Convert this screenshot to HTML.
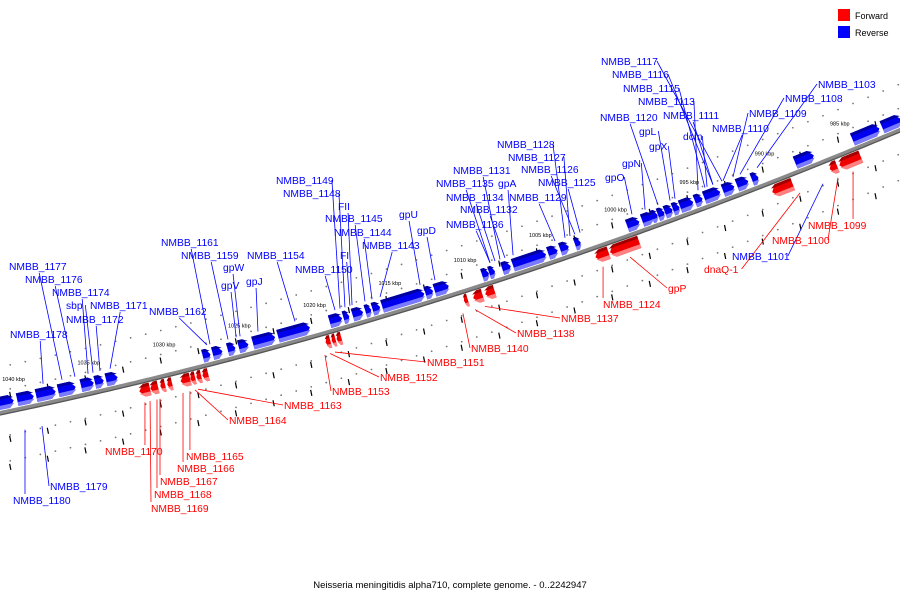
<!DOCTYPE html>
<html><head><meta charset="utf-8"><style>
html,body{margin:0;padding:0;background:#fff;}
svg{display:block;font-family:"Liberation Sans",sans-serif;}
</style></head><body>
<svg id="map" width="900" height="600" viewBox="0 0 900 600">
<g id="tracks"></g>
<path id="axisline" fill="none" stroke="#8a8a8a" stroke-width="4"/>
<path id="axisline2" fill="none" stroke="#555" stroke-width="1.3"/>
<g id="ticks"></g>
<g id="leaders"></g>
<g id="genes"></g>
<g id="labels"></g>
<g>
<rect x="838" y="9" width="12" height="12" fill="#ff0000"/>
<text x="855" y="19" font-size="9" fill="#000">Forward</text>
<rect x="838" y="26" width="12" height="12" fill="#0000ff"/>
<text x="855" y="36" font-size="9" fill="#000">Reverse</text>
</g>
<text x="450" y="588" font-size="9.5" text-anchor="middle" fill="#000">Neisseria meningitidis alpha710, complete genome. - 0..2242947</text>
</svg>
<script>
// data: [startKbp, endKbp]
const blueGenes = [[980.5,981.88],[981.94,983.87],[986.33,987.66],[990.05,990.51],[990.71,991.51],[991.64,992.44],[992.57,993.70],[993.77,994.30],[994.37,995.30],[995.30,995.76],[995.76,996.30],[996.30,996.76],[996.76,997.16],[997.03,997.82],[997.96,998.82],[1001.88,1002.28],[1002.67,1003.27],[1003.41,1004.07],[1004.14,1006.46],[1006.53,1007.13],[1007.59,1007.99],[1007.99,1008.46],[1010.65,1011.64],[1011.71,1012.24],[1012.24,1015.17],[1015.23,1015.76],[1015.83,1016.23],[1016.36,1017.09],[1017.29,1017.69],[1017.76,1018.62],[1019.88,1022.08],[1022.21,1023.74],[1024.00,1024.67],[1024.87,1025.40],[1025.73,1026.40],[1026.53,1027.06],[1032.71,1033.50],[1033.64,1034.24],[1034.30,1035.17],[1035.50,1036.69],[1036.83,1038.16],[1038.29,1039.42],[1039.62,1041.5]];
const redGenes = [[983.67,985.20],[985.27,985.80],[988.19,989.65],[998.36,1000.42],[1000.42,1001.35],[1007.99,1008.65],[1008.79,1009.45],[1009.78,1010.05],[1018.16,1018.49],[1018.55,1018.82],[1018.89,1019.22],[1026.99,1027.39],[1027.46,1027.79],[1027.86,1028.19],[1028.19,1028.85],[1029.39,1029.72],[1029.85,1030.18],[1030.32,1030.85],[1030.85,1031.58]];
const tickKbp = [985,990,995,1000,1005,1010,1015,1020,1025,1030,1035,1040];
const tickLabels = ["985 kbp","990 kbp","995 kbp","1000 kbp","1005 kbp","1010 kbp","1015 kbp","1020 kbp","1025 kbp","1030 kbp","1035 kbp","1040 kbp"];
const labelNames = ["NMBB_1117","NMBB_1116","NMBB_1115","NMBB_1113","NMBB_1120","NMBB_1111","NMBB_1103","NMBB_1108","NMBB_1109","NMBB_1110","gpL","dcm","gpX","gpN","gpO","NMBB_1128","NMBB_1127","NMBB_1131","NMBB_1126","NMBB_1135","gpA","NMBB_1125","NMBB_1134","NMBB_1129","NMBB_1132","NMBB_1136","NMBB_1149","NMBB_1148","FII","NMBB_1145","gpU","NMBB_1144","gpD","NMBB_1143","NMBB_1161","NMBB_1159","NMBB_1154","gpW","FI","NMBB_1150","gpV","gpJ","NMBB_1177","NMBB_1176","NMBB_1174","sbp","NMBB_1171","NMBB_1172","NMBB_1162","NMBB_1178","NMBB_1179","NMBB_1180","NMBB_1101","NMBB_1099","NMBB_1100","dnaQ-1","gpP","NMBB_1124","NMBB_1137","NMBB_1138","NMBB_1140","NMBB_1151","NMBB_1152","NMBB_1153","NMBB_1163","NMBB_1164","NMBB_1165","NMBB_1166","NMBB_1170","NMBB_1167","NMBB_1168","NMBB_1169"];
const labelColor = ["b","b","b","b","b","b","b","b","b","b","b","b","b","b","b","b","b","b","b","b","b","b","b","b","b","b","b","b","b","b","b","b","b","b","b","b","b","b","b","b","b","b","b","b","b","b","b","b","b","b","b","b","b","r","r","r","r","r","r","r","r","r","r","r","r","r","r","r","r","r","r","r"];
const labelSide = [1,1,1,1,1,1,1,1,1,1,1,1,1,1,1,1,1,1,1,1,1,1,1,1,1,1,1,1,1,1,1,1,1,1,1,1,1,1,1,1,1,1,1,1,1,1,1,1,1,1,-1,-1,-1,-1,-1,-1,-1,-1,-1,-1,-1,-1,-1,-1,-1,-1,-1,-1,-1,-1,-1,-1];
const labelTargetKbp = [992.71,993.31,993.84,994.30,996.96,993.31,990.38,991.51,991.98,992.64,996.16,993.70,995.83,997.82,998.69,1003.14,1002.81,1007.46,1002.48,1008.12,1006.59,1002.14,1007.79,1003.80,1007.13,1008.12,1018.09,1017.76,1017.29,1016.43,1012.77,1015.96,1011.78,1015.43,1026.73,1025.53,1021.08,1024.73,1017.43,1018.42,1024.99,1023.54,1036.56,1035.70,1034.83,1034.50,1033.37,1034.04,1026.93,1037.82,1037.89,1039.02,986.00,984.00,985.00,987.52,998.82,1000.61,1008.46,1009.12,1009.92,1018.42,1018.75,1019.09,1027.52,1027.72,1028.06,1028.52,1031.05,1030.05,1030.25,1030.71];
// layout positions of label text (left x, baseline y)
const labelPos = [[601,65],[612,78],[623,92],[638,105],[600,121],[663,119],[818,88],[785,102],[749,117],[712,132],[639,135],[683,140],[649,150],[622,167],[605,181],[497,148],[508,161],[453,174],[521,173],[436,187],[498,187],[538,186],[446,201],[509,201],[460,213],[446,228],[276,184],[283,197],[338,210],[325,222],[399,218],[334,236],[417,234],[362,249],[161,246],[181,259],[247,259],[223,271],[340,259],[295,273],[221,289],[246,285],[9,270],[25,283],[52,296],[66,309],[90,309],[66,323],[149,315],[10,338],[50,490],[13,504],[732,260],[808,229],[772,244],[704,273],[668,292],[603,308],[561,322],[517,337],[471,352],[427,366],[380,381],[332,395],[284,409],[229,424],[186,460],[177,472],[105,455],[160,485],[154,498],[151,512]];

const NS="http://www.w3.org/2000/svg";
function X(k){return 838-(k-985)*15.05;}
function Y(x){return -1.185e-4*x*x-0.2078*x+413;}
function slope(x){return -2*1.185e-4*x-0.2078;}
function mk(tag,attrs,parent){const e=document.createElementNS(NS,tag);for(const k in attrs)e.setAttribute(k,attrs[k]);parent.appendChild(e);return e;}

let d="";for(let x=-10;x<=910;x+=5){d+=(x===-10?"M":"L")+x+","+Y(x).toFixed(2);}
document.getElementById('axisline').setAttribute('d',d);
let d2="";for(let x=-10;x<=910;x+=5){d2+=(x===-10?"M":"L")+x+","+(Y(x)+2).toFixed(2);}
document.getElementById('axisline2').setAttribute('d',d2);

const tracks=document.getElementById('tracks');
for(let k=978;k<=1046;k+=1){
  const x=X(k);
  [-22,-46,24,50].forEach(off=>{
    const c=mk('circle',{cx:x,cy:Y(x)+off,r:0.9,fill:'#777'},tracks);
    
    
  });
}
for(let k=977.5;k<=1046;k+=2.5){
  const x=X(k);
  [-16,28,56].forEach(off=>{
    const l=mk('line',{x1:x-0.6,y1:Y(x)+off-3,x2:x+0.6,y2:Y(x)+off+3,stroke:'#000','stroke-width':1.2},tracks);
    
    
  });
}
const ticks=document.getElementById('ticks');
tickKbp.forEach((k,i)=>{
  const x=X(k);
  const t=mk('text',{x:x-8,y:Y(x)-30,'font-size':5.5,fill:'#000'},ticks);
  t.textContent=tickLabels[i];
  
  
});

const genes=document.getElementById('genes');
function drawGene(g,side){
  const xa=X(g[0]),xb=X(g[1]);
  const xl=Math.min(xa,xb),xr=Math.max(xa,xb),cx=(xl+xr)/2,w=xr-xl;
  const ang=Math.atan(slope(cx))*180/Math.PI;
  const grp=mk('g',{transform:`translate(${cx},${Y(cx)}) rotate(${ang})`},genes);
  
  
  const h=13,t=Math.min(5,w/2);
  const y0=side>0?-h-3:3,y1=y0+h;
  const L=-w/2,R=w/2;
  let pts;
  if(side>0) pts=[[L,y0],[R-t,y0],[R,(y0+y1)/2],[R-t,y1],[L,y1]];
  else pts=[[L+t,y0],[R,y0],[R,y1],[L+t,y1],[L,(y0+y1)/2]];
  mk('polygon',{points:pts.map(p=>p.join(',')).join(' '),fill:side>0?'#0000ee':'#ee0000'},grp);
  const hi=side>0?'#7a7aff':'#ff8080';
  const clipTop=y1-4;
  mk('polygon',{points:pts.map(p=>[p[0],Math.max(p[1],clipTop)].join(',')).join(' '),fill:hi},grp);
  mk('polygon',{points:pts.map(p=>[p[0],Math.min(p[1],y0+3)].join(',')).join(' '),fill:side>0?'#0000a0':'#a00000'},grp);
}
blueGenes.forEach(g=>drawGene(g,1));
redGenes.forEach(g=>drawGene(g,-1));

const labels=document.getElementById('labels'),leaders=document.getElementById('leaders');
labelNames.forEach((n,i)=>{
  const col=labelColor[i]==='b'?'#0000ff':'#ff0000';
  const [lx,ly]=labelPos[i];
  const t=mk('text',{x:lx,y:ly,'font-size':10.3,fill:col},labels);
  t.textContent=n;
  
  
  const tw=n.length*6.1;
  const tx=X(labelTargetKbp[i]);
  const ty=Y(tx)+(labelSide[i]>0?-20:22);
  let sx,sy;
  if(tx<lx-4){sx=lx-1;sy=ly-4;}
  else if(tx>lx+tw+4){sx=lx+tw+1;sy=ly-4;}
  else if(ty>ly){sx=lx+tw*0.55;sy=ly+3;}
  else {sx=Math.max(lx,Math.min(lx+tw,tx));sy=ly-10;}
  const l=mk('line',{x1:sx,y1:sy,x2:tx,y2:ty,stroke:col,'stroke-width':0.8},leaders);
  
  
});
</script>
</body></html>
